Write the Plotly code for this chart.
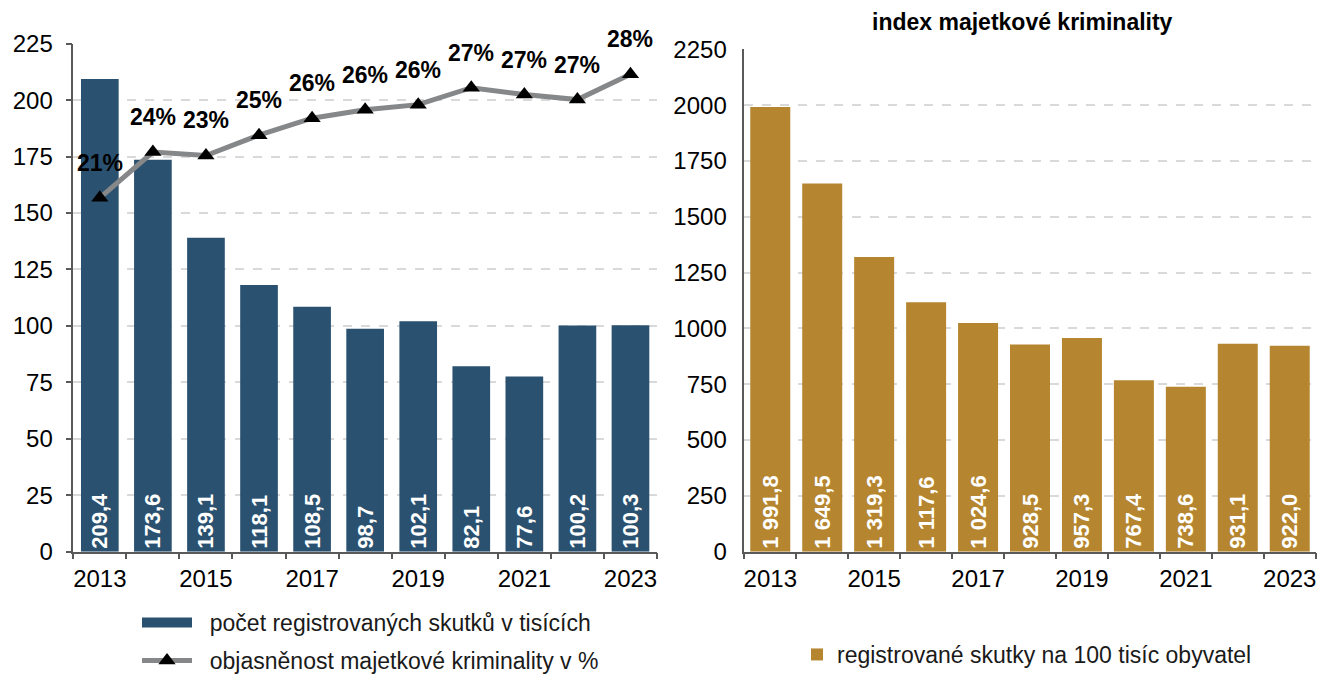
import plotly.graph_objects as go

years = [2013, 2014, 2015, 2016, 2017, 2018, 2019, 2020, 2021, 2022, 2023]
registered_thousands = [209.4, 173.6, 139.1, 118.1, 108.5, 98.7, 102.1, 82.1, 77.6, 100.2, 100.3]
clearance_pct = [20.9, 23.6, 23.4, 24.6, 25.6, 26.1, 26.4, 27.4, 27.0, 26.7, 28.2]
index_per_100k = [1991.8, 1649.5, 1319.3, 1117.6, 1024.6, 928.5, 957.3, 767.4, 738.6, 931.1, 922.0]
pct_labels = [f"{round(v)}%" for v in clearance_pct]
xtick_years = [2013, 2015, 2017, 2019, 2021, 2023]

name_bar_left = "počet registrovaných skutků v tisících"
name_line = "objasněnost majetkové kriminality v %"
name_bar_right = "registrované skutky na 100 tisíc obyvatel"
title_right = "index majetkové kriminality"

BLUE = "#2b5170"
GOLD = "#b5862f"
GRAY_LINE = "#858789"
AXIS = "#595959"
GRID = "#d9d9d9"
FONT = "Liberation Sans, Arial, sans-serif"

W, H = 1317, 682
TICK_SIZE = 24
LEG_SIZE = 23
PAD = "\u00a0\u00a0"

fig = go.Figure()

fig.add_trace(go.Bar(
    x=years, y=registered_thousands, name=name_bar_left, showlegend=False,
    marker=dict(color=BLUE, line=dict(width=0)), width=0.71,
    texttemplate="%{y:,.1f}", textposition="inside", insidetextanchor="start",
    textangle=-90, insidetextfont=dict(color="white", size=22, family=FONT, weight="bold"),
    xaxis="x", yaxis="y", hoverinfo="skip",
))
# legend entry for the left bars (wide swatch like the original)
fig.add_trace(go.Scatter(
    x=[None], y=[None], name=PAD + name_bar_left, mode="lines",
    line=dict(color=BLUE, width=13),
    xaxis="x", yaxis="y", legend="legend", hoverinfo="skip",
))
fig.add_trace(go.Scatter(
    x=years, y=clearance_pct, name=PAD + name_line, mode="lines+markers",
    line=dict(color=GRAY_LINE, width=5),
    marker=dict(symbol="triangle-up", size=15, color="black"),
    xaxis="x", yaxis="y2", legend="legend3", hoverinfo="skip",
))
fig.add_trace(go.Bar(
    x=years, y=index_per_100k, name=name_bar_right,
    marker=dict(color=GOLD, line=dict(width=0)), width=0.77,
    texttemplate="%{y:,.1f}", textposition="inside", insidetextanchor="start",
    textangle=-90, insidetextfont=dict(color="white", size=22, family=FONT, weight="bold"),
    xaxis="x2", yaxis="y3", legend="legend2", hoverinfo="skip",
))

annotations = []
for yr, v, lab in zip(years, clearance_pct, pct_labels):
    annotations.append(dict(
        x=yr, y=v, xref="x", yref="y2", text=f"<b>{lab}</b>", showarrow=False,
        yshift=35, font=dict(size=23, color="black", family=FONT),
    ))
annotations.append(dict(
    x=1022 / W, y=1 - 22 / H, xref="paper", yref="paper",
    xanchor="center", yanchor="middle",
    text=f"<b>{title_right}</b>", showarrow=False,
    font=dict(size=23, color="black", family=FONT),
))

xaxis_common = dict(
    range=[2012.5, 2023.5], tickmode="array", tickvals=xtick_years,
    ticks="", showgrid=False, showline=True, linecolor=AXIS, linewidth=1.5,
    zeroline=False, tickfont=dict(size=TICK_SIZE, color="black", family=FONT),
    ticklabelstandoff=5, automargin=False,
    minor=dict(tickmode="linear", tick0=2012.5, dtick=1, ticks="outside",
               ticklen=6, tickcolor=AXIS, tickwidth=1.5, showgrid=False),
)

ly0, ly1 = 1 - 551.7 / H, 1 - 43.7 / H
ry1 = 1 - 49.3 / H

legend_common = dict(xanchor="left", font=dict(size=LEG_SIZE, color="#1a1a1a", family=FONT),
                     bgcolor="rgba(0,0,0,0)", itemwidth=50)

fig.update_layout(
    width=W, height=H, margin=dict(l=0, r=0, t=0, b=0),
    paper_bgcolor="white", plot_bgcolor="white",
    separators=", ",
    font=dict(family=FONT, color="black"),
    showlegend=True,
    xaxis=dict(domain=[73.3 / W, 657 / W], anchor="y", **xaxis_common),
    xaxis2=dict(domain=[744.3 / W, 1315.7 / W], anchor="y3", **xaxis_common),
    yaxis=dict(domain=[ly0, ly1], range=[0, 225], dtick=25, anchor="x",
               showline=True, linecolor=AXIS, linewidth=1.5,
               ticks="outside", ticklen=6, tickcolor=AXIS, tickwidth=1.5,
               showgrid=True, gridcolor=GRID, gridwidth=1.5, griddash="dash",
               zeroline=False, tickfont=dict(size=TICK_SIZE, color="black", family=FONT),
               ticklabelstandoff=8, automargin=False),
    yaxis2=dict(domain=[ly0, ly1], range=[0, 30], overlaying="y", anchor="x",
                visible=False, automargin=False),
    yaxis3=dict(domain=[ly0, ry1], range=[0, 2250], dtick=250, anchor="x2",
                showline=True, linecolor=AXIS, linewidth=1.5, ticks="",
                showgrid=True, gridcolor=GRID, gridwidth=1.5, griddash="dash",
                zeroline=False, tickfont=dict(size=TICK_SIZE, color="black", family=FONT),
                ticklabelstandoff=11, automargin=False),
    legend=dict(x=137 / W, y=1 - 601 / H, yanchor="top", **legend_common),
    legend3=dict(x=137 / W, y=0, yanchor="bottom", **legend_common),
    legend2=dict(x=797 / W, y=1 - 633 / H, yanchor="top",
                 xanchor="left", font=dict(size=LEG_SIZE, color="#1a1a1a", family=FONT),
                 bgcolor="rgba(0,0,0,0)"),
    annotations=annotations,
)

fig.write_html(
    "out.html",
    config={"displayModeBar": False},
    post_script="document.body.style.margin='0';document.body.style.overflow='hidden';",
)
